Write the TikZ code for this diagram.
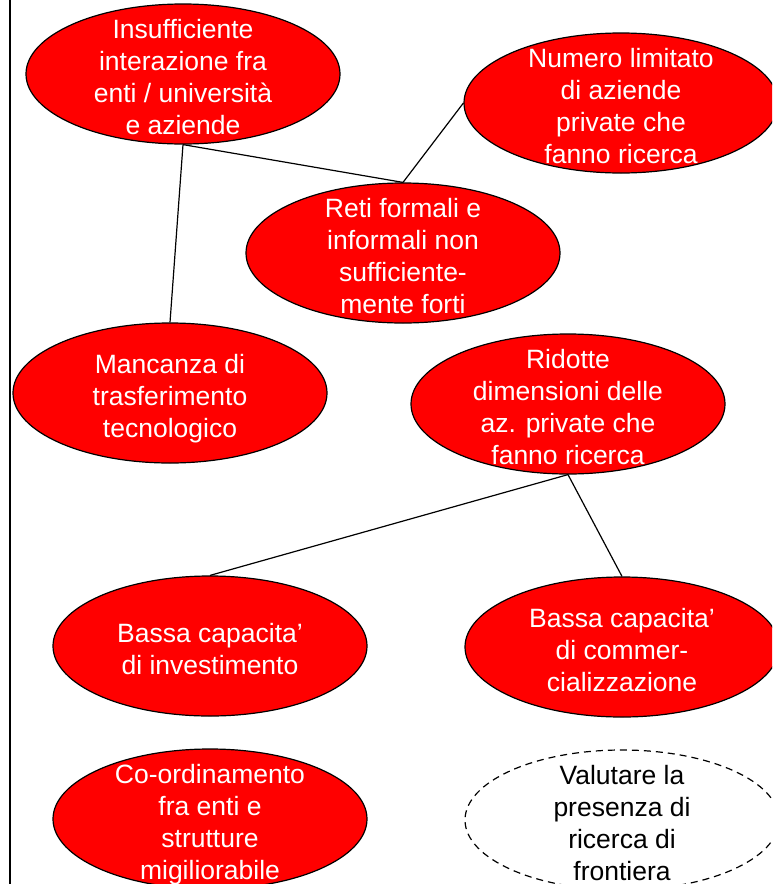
\documentclass[tikz,border=0pt]{standalone}
\usepackage{fontspec}
\setmainfont{Liberation Sans}
\usetikzlibrary{shapes.geometric}
\newcommand{\righe}[1]{\smash{\makebox[0pt]{\raisebox{-12pt}{\begin{tabular}{@{}c@{}}#1\end{tabular}}}}}
\begin{document}
\begin{tikzpicture}[x=1pt,y=-1pt,line width=1.2pt,
    nodo/.style={ellipse,draw,fill=red,text=white,minimum width=314pt,minimum height=140pt,
      inner sep=0pt,font=\fontsize{26.5}{32}\selectfont},
    vuoto/.style={nodo,fill=none,text=black,dash pattern=on 7pt off 5pt}]
  \useasboundingbox (0,0) rectangle (772,884);
  \clip (0,0) rectangle (772,884);
  \draw (10,0) -- (10,884);
      \node[nodo] (A1) at (183,74) {\righe{Insufficiente\\interazione fra\\enti / università\\e aziende}};
      \node[nodo] (A2) at (621,103) {\righe{Numero limitato\\di aziende\\private che\\fanno ricerca}};
      \node[nodo] (A3) at (403,253) {\righe{Reti formali e\\informali non\\sufficiente-\\mente forti}};
      \node[nodo] (B1) at (170,393) {\righe{Mancanza di\\trasferimento\\tecnologico}};
      \node[nodo] (B2) at (568,404) {\righe{Ridotte\\dimensioni delle\\az. private che\\fanno ricerca}};
      \node[nodo] (C1) at (210,646) {\righe{Bassa capacita’\\di investimento}};
      \node[nodo] (C2) at (622,647) {\righe{Bassa capacita’\\di commer-\\cializzazione}};
      \node[nodo] (D1) at (210,819) {\righe{Co-ordinamento\\fra enti e\\strutture\\migiliorabile}};
      \node[vuoto] (D2) at (622,820) {\righe{Valutare la\\presenza di\\ricerca di\\frontiera}};
      \draw (A1.south) -- (B1.north);
      \draw (A1.south) -- (A3.north);
      \draw (A3.north) -- (A2.west);
      \draw (B2.south) -- (C1.north);
      \draw (B2.south) -- (C2.north);
\end{tikzpicture}
\end{document}
